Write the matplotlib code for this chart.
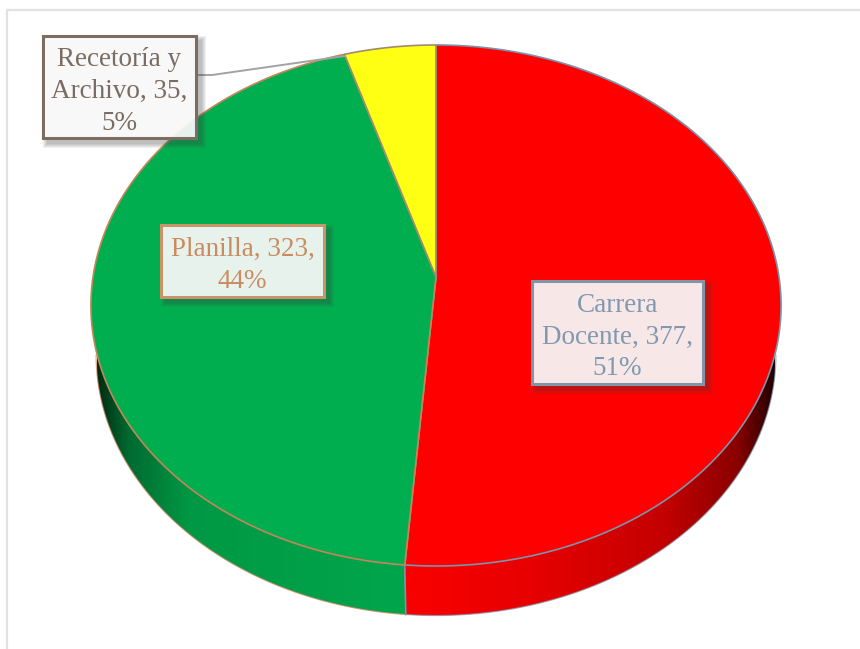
import numpy as np
import matplotlib
matplotlib.use('Agg')
import matplotlib.pyplot as plt
from matplotlib.colors import LinearSegmentedColormap
from matplotlib.patches import Polygon, Rectangle

categories = ['Carrera\nDocente', 'Planilla', 'Recetoría y\nArchivo']
values = [377, 323, 35]
percents = ['51%', '44%', '5%']
label_text = ['Carrera\nDocente, 377,\n51%', 'Planilla, 323,\n44%', 'Recetoría y\nArchivo, 35,\n5%']
top_colors = ['#ff0000', '#00ae50', '#ffff14']
edge_colors = ['#7b93ab', '#c4855a', '#a08a70']
text_colors = ['#7f99b0', '#c98c60', '#7a6c62']
box_edges = ['#8294a8', '#c89468', '#7c6c62']
# label boxes: left, top, right, bottom in pixels
boxes = [(532, 281, 703, 384), (161, 225, 324, 297), (43, 36, 196, 138)]

# tip of the pie and the tilted circle around it
tip_x, tip_y = 436, 277
scale_x, scale_y, tilt = 343, 257.4, 0.1094
depth = 49.5
bottom_narrow = 0.985


def rim(angle):
    """point on the tilted pie rim, angle in degrees clockwise from the top"""
    a = np.radians(angle)
    w = 1 + tilt * np.cos(a)
    return tip_x + scale_x * np.sin(a) / w, tip_y - scale_y * np.cos(a) / w


fig = plt.figure(figsize=(8.6, 6.49), dpi=100)
ax = fig.add_axes([0, 0, 1, 1])

# chart frame
ax.plot([6.5, 6.5, 860], [649, 9.5, 9.5], color='#e2e2e2', lw=1.6, zorder=1)

cum = np.cumsum([0] + values) / sum(values) * 360
side_from, side_to = 96.3, 263.7

# side walls, shaded darker towards the outer ends
wall_maps = [
    LinearSegmentedColormap.from_list('r', [(0, '#fa0000'), (0.35, '#e60000'), (0.7, '#c40000'),
                                            (0.9, '#8a0000'), (1, '#200000')]),
    LinearSegmentedColormap.from_list('g', [(0, '#002a12'), (0.1, '#006a30'), (0.3, '#009844'),
                                            (1, '#00a64c')]),
]
walls = [(cum[0], cum[1], 405, 775), (cum[1], cum[2], 97, 405)]
for i, (a0, a1, x0, x1) in enumerate(walls):
    a0, a1 = max(a0, side_from), min(a1, side_to)
    xs, ys = rim(np.linspace(a0, a1, 200))
    xb = tip_x + (xs - tip_x) * bottom_narrow
    yb = ys + depth
    pts = np.r_[np.c_[xs, ys], np.c_[xb, yb][::-1]]
    poly = Polygon(pts, closed=True, fc='none', ec='none', transform=ax.transData)
    ax.add_patch(poly)
    grad = np.linspace(0, 1, 256).reshape(1, -1)
    im = ax.imshow(grad, cmap=wall_maps[i], extent=(x0, x1, 640, 300), aspect='auto', zorder=2, vmin=0, vmax=1)
    im.set_clip_path(poly)
    ax.plot(xb, yb, color=edge_colors[i], lw=0.9, alpha=0.7, zorder=3)
ax.set_xlim(0, 860)
ax.set_ylim(649, 0)
ax.axis('off')
xd, yd = rim(cum[1])
ax.plot([xd, xd + 1], [yd, yd + depth], color=edge_colors[0], lw=1.2, zorder=3)

# top surface
for i in range(len(values)):
    xs, ys = rim(np.linspace(cum[i], cum[i + 1], 300))
    pts = np.r_[[[tip_x, tip_y]], np.c_[xs, ys]]
    ax.add_patch(Polygon(pts, closed=True, fc=top_colors[i], ec=edge_colors[i], lw=1.2, joinstyle='round', zorder=4))

# leader line for the small slice
ax.plot([196, 212, 345], [75, 75, 56], color='#a3a3a3', lw=1.4, zorder=5)

# labels
for i, (l, t, r, b) in enumerate(boxes):
    for off in range(10, 0, -2):
        ax.add_patch(Rectangle((l + 5 - off / 2, t + 5 - off / 2), r - l + off, b - t + off,
                               fc='#404040', ec='none', alpha=0.08, zorder=6))
    ax.add_patch(Rectangle((l, t), r - l, b - t, fc='white', ec='none', alpha=0.9, zorder=7))
    ax.add_patch(Rectangle((l, t), r - l, b - t, fc='none', ec=box_edges[i], lw=2.2, zorder=8))
    ax.text((l + r) / 2, (t + b) / 2 + 4.5, label_text[i], ha='center', va='center', ma='center',
            family='Liberation Serif', fontsize=19.5, color=text_colors[i], linespacing=1.36, zorder=9)

fig.savefig('out.png', dpi=100)
